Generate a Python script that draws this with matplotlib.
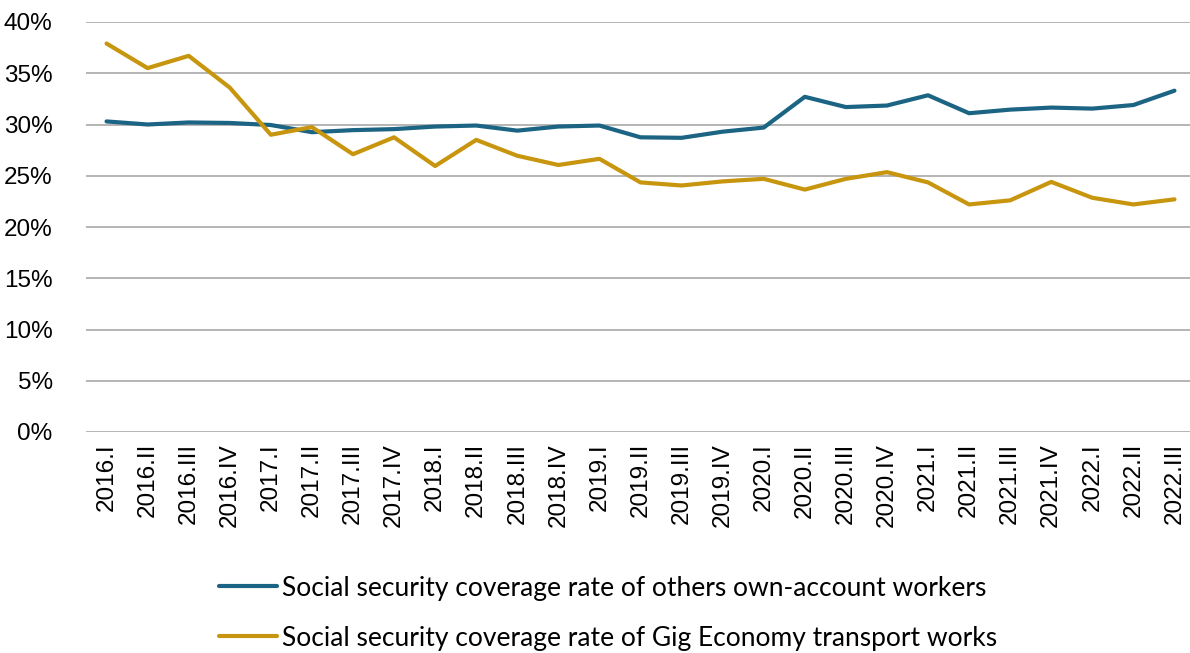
import matplotlib
matplotlib.use('Agg')
import matplotlib.pyplot as plt
from matplotlib.ticker import PercentFormatter

plt.rcParams['font.family'] = ['Liberation Sans', 'DejaVu Sans']

# 季度标签
quarters = ['2016.I', '2016.II', '2016.III', '2016.IV',
            '2017.I', '2017.II', '2017.III', '2017.IV',
            '2018.I', '2018.II', '2018.III', '2018.IV',
            '2019.I', '2019.II', '2019.III', '2019.IV',
            '2020.I', '2020.II', '2020.III', '2020.IV',
            '2021.I', '2021.II', '2021.III', '2021.IV',
            '2022.I', '2022.II', '2022.III']

# 其他自营职业者社保覆盖率 (%)
others_rate = [30.3, 30.0, 30.2, 30.15, 29.95, 29.25, 29.45, 29.55, 29.8, 29.9,
               29.4, 29.8, 29.9, 28.75, 28.7, 29.3, 29.7, 32.7, 31.7, 31.85,
               32.85, 31.1, 31.45, 31.65, 31.55, 31.9, 33.3]

# 零工经济运输从业者社保覆盖率 (%)
gig_rate = [37.9, 35.5, 36.7, 33.6, 29.0, 29.75, 27.1, 28.75, 25.95, 28.5,
            26.95, 26.05, 26.65, 24.35, 24.05, 24.45, 24.7, 23.65, 24.7, 25.35,
            24.35, 22.2, 22.6, 24.4, 22.85, 22.2, 22.7]

labels = ['Social security coverage rate of others own-account workers',
          'Social security coverage rate of Gig Economy transport works']

blue = '#1c6483'
gold = '#c8960e'

fig = plt.figure(figsize=(11.9, 6.53), dpi=100)
ax = fig.add_axes([86 / 1190, 1 - 432 / 653, 1109 / 1190, 410 / 653])

x = list(range(len(quarters)))
ax.plot(x, others_rate, color=blue, lw=3, solid_capstyle='round', label=labels[0], zorder=3)
ax.plot(x, gig_rate, color=gold, lw=3, solid_capstyle='round', label=labels[1], zorder=3)

ax.set_xlim(-0.5, len(quarters) - 0.5)
ax.set_ylim(0, 40)
ax.set_yticks(range(0, 41, 5))
ax.yaxis.set_major_formatter(PercentFormatter(decimals=0))
ax.set_xticks(x)
ax.set_xticklabels(quarters, rotation=90)
ax.tick_params(axis='both', length=0, labelsize=17.5, colors='black')
ax.tick_params(axis='y', pad=24)
ax.tick_params(axis='x', pad=8)

ax.grid(axis='y', color='#a0a0a0', lw=1.1)
ax.set_axisbelow(True)
for s in ax.spines.values():
    s.set_visible(False)

# 图例
fig.legend(loc='center', bbox_to_anchor=(0.511, 0.061), ncol=1, frameon=False,
           handlelength=2.2, handletextpad=0.2, labelspacing=0.95,
           prop={'family': 'Lato', 'size': 19})

fig.savefig('out.png', dpi=100)
